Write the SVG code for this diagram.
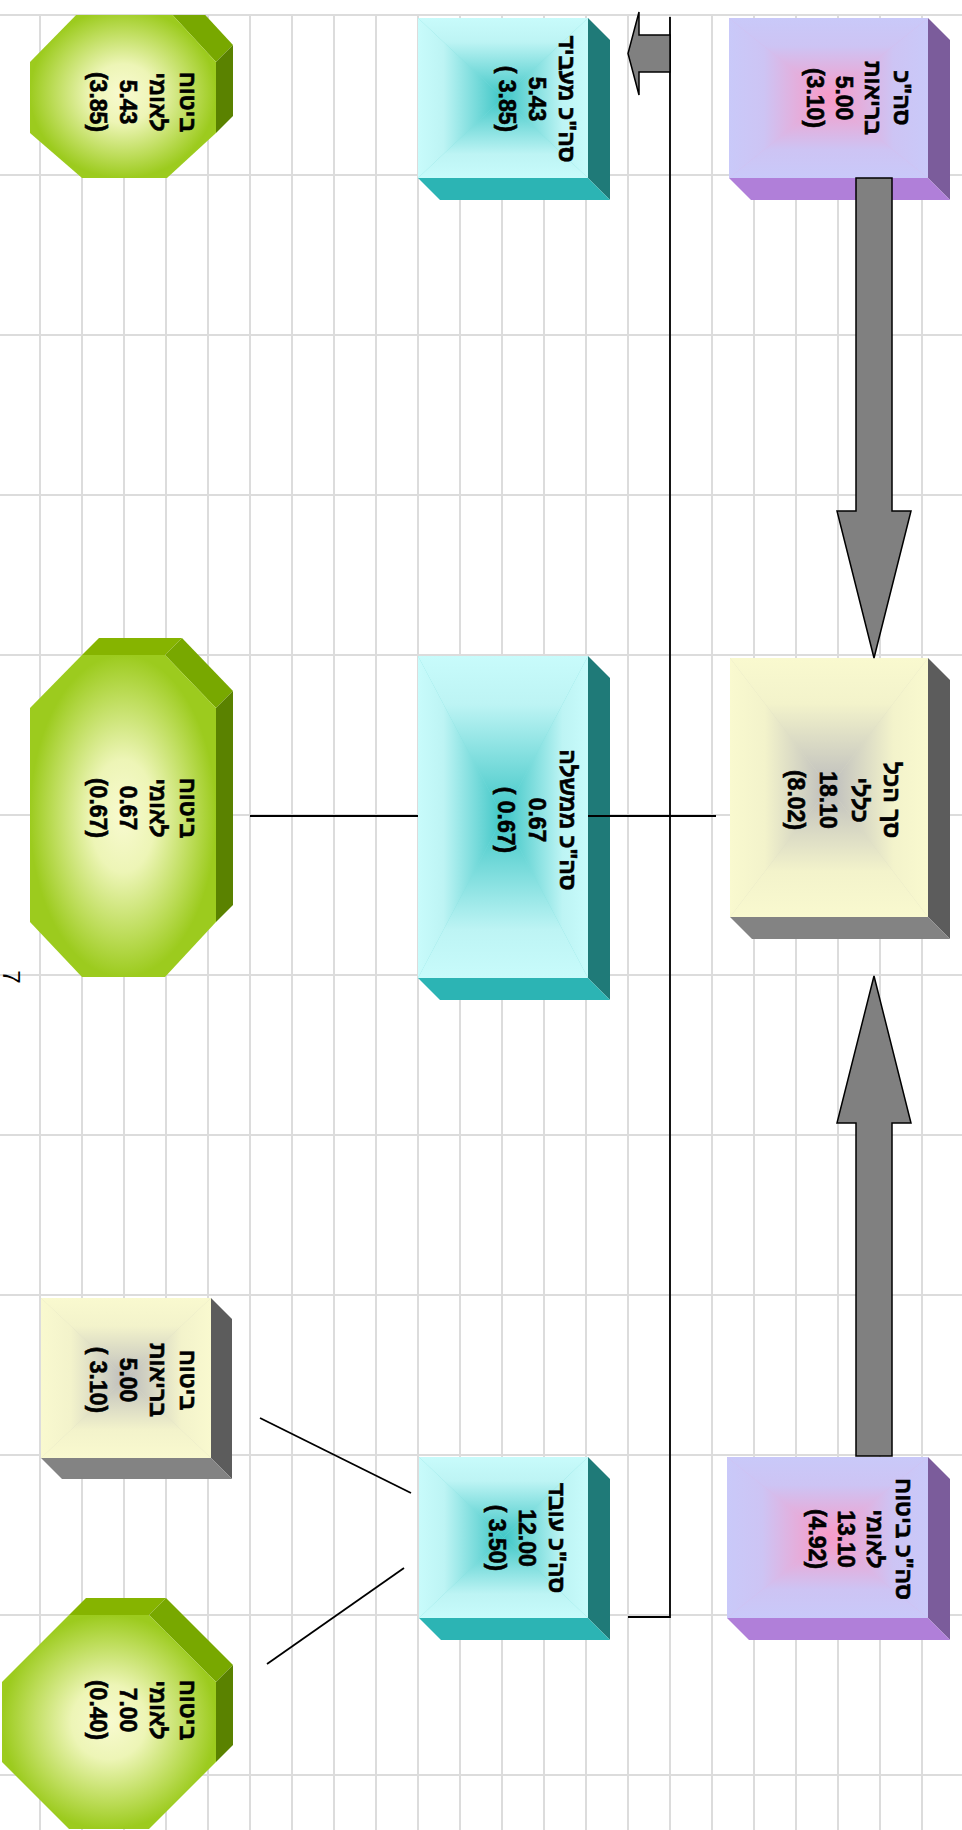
<svg xmlns="http://www.w3.org/2000/svg" width="962" height="1830" viewBox="0 0 962 1830">
<style>
.grid{stroke:#dcdcdc;stroke-width:2;fill:none}
.lbl{font-family:"Liberation Sans","DejaVu Sans",sans-serif;font-weight:bold;font-size:23px;fill:#000;stroke:#000;stroke-width:0.6;text-anchor:middle;dominant-baseline:central}
.conn{stroke:#000;stroke-width:1.8;fill:none}
.arrow{fill:#808080;stroke:#000;stroke-width:1.5;stroke-linejoin:miter}
.face{stroke:none}
</style>
<defs>
<linearGradient id="pT" x1="0" y1="0" x2="0" y2="1"><stop offset="0" stop-color="#c9c9f9"/><stop offset="0.35" stop-color="#cdc4f4"/><stop offset="1" stop-color="#f99ac6"/></linearGradient>
<linearGradient id="pB" href="#pT" x1="0" y1="1" x2="0" y2="0"/>
<linearGradient id="pL" href="#pT" x1="0" y1="0" x2="1" y2="0"/>
<linearGradient id="pR" href="#pT" x1="1" y1="0" x2="0" y2="0"/>
<linearGradient id="cT" x1="0" y1="0" x2="0" y2="1"><stop offset="0" stop-color="#c8fbfb"/><stop offset="0.3" stop-color="#bdf4f4"/><stop offset="1" stop-color="#3ec6c6"/></linearGradient>
<linearGradient id="cB" href="#cT" x1="0" y1="1" x2="0" y2="0"/>
<linearGradient id="cL" href="#cT" x1="0" y1="0" x2="1" y2="0"/>
<linearGradient id="cR" href="#cT" x1="1" y1="0" x2="0" y2="0"/>
<linearGradient id="yT" x1="0" y1="0" x2="0" y2="1"><stop offset="0" stop-color="#f9f9cf"/><stop offset="0.35" stop-color="#f3f3cb"/><stop offset="1" stop-color="#bdbdbd"/></linearGradient>
<linearGradient id="yB" href="#yT" x1="0" y1="1" x2="0" y2="0"/>
<linearGradient id="yL" href="#yT" x1="0" y1="0" x2="1" y2="0"/>
<linearGradient id="yR" href="#yT" x1="1" y1="0" x2="0" y2="0"/>
<radialGradient id="oct" cx="0.5" cy="0.5" r="0.5"><stop offset="0" stop-color="#f8fad0"/><stop offset="0.35" stop-color="#edf5b6"/><stop offset="0.75" stop-color="#bcdc58"/><stop offset="1" stop-color="#9ccb1e"/></radialGradient>
<clipPath id="clipTop"><rect x="0" y="15" width="962" height="1815"/></clipPath>
</defs>
<rect width="962" height="1830" fill="#fff"/>
<g id="grid">
<path class="grid" d="M40 15V1830M82 15V1830M124 15V1830M166 15V1830M208 15V1830M250 15V1830M292 15V1830M334 15V1830M376 15V1830M418 15V1830M460 15V1830M502 15V1830M544 15V1830M586 15V1830M628 15V1830M670 15V1830M712 15V1830M754 15V1830M796 15V1830M838 15V1830M880 15V1830M922 15V1830"/>
<path class="grid" d="M0 15H962M0 175H962M0 335H962M0 495H962M0 655H962M0 815H962M0 975H962M0 1135H962M0 1295H962M0 1455H962M0 1615H962M0 1775H962"/>
</g>
<text x="0" y="0" transform="translate(3,977) rotate(90)" font-family="Liberation Sans, sans-serif" font-size="24" text-anchor="middle" fill="#000">7</text>

<g id="n1">
<polygon class="face" fill="#7b5c9b" points="928,18 950,40 950,200 928,178"/>
<polygon class="face" fill="#b07fd9" points="729,178 928,178 950,200 751,200"/>
<rect x="729" y="18" width="199" height="160" fill="#d8b8e8"/>
<polygon fill="url(#pT)" points="729,18 928,18 828.5,98"/>
<polygon fill="url(#pB)" points="729,178 928,178 828.5,98"/>
<polygon fill="url(#pL)" points="729,18 729,178 828.5,98"/>
<polygon fill="url(#pR)" points="928,18 928,178 828.5,98"/>
<g transform="translate(858,98) rotate(90)"><text class="lbl" y="-43.5">סה"כ</text><text class="lbl" y="-14.5">בריאות</text><text class="lbl" y="14.5">5.00</text><text class="lbl" y="43.5">(3.10)</text></g>
</g>

<g id="n2">
<polygon class="face" fill="#1f7a78" points="588,18 610,40 610,200 588,178"/>
<polygon class="face" fill="#2cb4b4" points="418,178 588,178 610,200 440,200"/>
<rect x="418" y="18" width="170" height="160" fill="#80dede"/>
<polygon fill="url(#cT)" points="418,18 588,18 503,98"/>
<polygon fill="url(#cB)" points="418,178 588,178 503,98"/>
<polygon fill="url(#cL)" points="418,18 418,178 503,98"/>
<polygon fill="url(#cR)" points="588,18 588,178 503,98"/>
<g transform="translate(537,99) rotate(90)"><text class="lbl" y="-30">סה"כ מעביד</text><text class="lbl" y="0">5.43</text><text class="lbl" y="30">( 3.85)</text></g>
</g>

<g id="n3" clip-path="url(#clipTop)">
<polygon class="face" fill="#86b400" points="82,9 99,-8 184,-8 167,9"/>
<polygon class="face" fill="#78a800" points="167,9 184,-8 233,45 216,62"/>
<polygon class="face" fill="#5a8200" points="216,62 233,45 233,116 216,133"/>
<polygon fill="url(#oct)" points="82,9 167,9 216,62 216,133 167,178 82,178 30,133 30,62"/>
<g transform="translate(143,102) rotate(90)"><text class="lbl" y="-45">ביטוח</text><text class="lbl" y="-15">לאומי</text><text class="lbl" y="15">5.43</text><text class="lbl" y="45">(3.85)</text></g>
</g>

<g id="n4">
<polygon class="face" fill="#5c5c5c" points="928,658 950,680 950,939 928,917"/>
<polygon class="face" fill="#838383" points="730,917 928,917 950,939 752,939"/>
<rect x="730" y="658" width="198" height="259" fill="#dcdcc4"/>
<polygon fill="url(#yT)" points="730,658 928,658 829,787.5"/>
<polygon fill="url(#yB)" points="730,917 928,917 829,787.5"/>
<polygon fill="url(#yL)" points="730,658 730,917 829,787.5"/>
<polygon fill="url(#yR)" points="928,658 928,917 829,787.5"/>
<g transform="translate(844,800) rotate(90)"><text class="lbl" y="-48">סך הכל</text><text class="lbl" y="-16">כללי</text><text class="lbl" y="16">18.10</text><text class="lbl" y="48">(8.02)</text></g>
</g>

<g id="n5">
<polygon class="face" fill="#1f7a78" points="588,656 610,678 610,1000 588,978"/>
<polygon class="face" fill="#2cb4b4" points="418,978 588,978 610,1000 440,1000"/>
<rect x="418" y="656" width="170" height="322" fill="#80dede"/>
<polygon fill="url(#cT)" points="418,656 588,656 503,817"/>
<polygon fill="url(#cB)" points="418,978 588,978 503,817"/>
<polygon fill="url(#cL)" points="418,656 418,978 503,817"/>
<polygon fill="url(#cR)" points="588,656 588,978 503,817"/>
<g transform="translate(537,820) rotate(90)"><text class="lbl" y="-31">סה"כ ממשלה</text><text class="lbl" y="0">0.67</text><text class="lbl" y="31">( 0.67)</text></g>
</g>

<g id="n6">
<polygon class="face" fill="#86b400" points="82,655 99,638 182,638 165,655"/>
<polygon class="face" fill="#78a800" points="165,655 182,638 233,691 216,708"/>
<polygon class="face" fill="#5a8200" points="216,708 233,691 233,905 216,922"/>
<polygon fill="url(#oct)" points="82,655 165,655 216,708 216,922 165,977 82,977 30,922 30,708"/>
<g transform="translate(143,808) rotate(90)"><text class="lbl" y="-45">ביטוח</text><text class="lbl" y="-15">לאומי</text><text class="lbl" y="15">0.67</text><text class="lbl" y="45">(0.67)</text></g>
</g>

<g id="n7">
<polygon class="face" fill="#7b5c9b" points="928,1457 950,1479 950,1640 928,1618"/>
<polygon class="face" fill="#b07fd9" points="727,1618 928,1618 950,1640 749,1640"/>
<rect x="727" y="1457" width="201" height="161" fill="#d8b8e8"/>
<polygon fill="url(#pT)" points="727,1457 928,1457 827.5,1537.5"/>
<polygon fill="url(#pB)" points="727,1618 928,1618 827.5,1537.5"/>
<polygon fill="url(#pL)" points="727,1457 727,1618 827.5,1537.5"/>
<polygon fill="url(#pR)" points="928,1457 928,1618 827.5,1537.5"/>
<g transform="translate(860,1539) rotate(90)"><text class="lbl" y="-43.5">סה"כ ביטוח</text><text class="lbl" y="-14.5">לאומי</text><text class="lbl" y="14.5">13.10</text><text class="lbl" y="43.5">(4.92)</text></g>
</g>

<g id="n8">
<polygon class="face" fill="#1f7a78" points="588,1457 610,1479 610,1640 588,1618"/>
<polygon class="face" fill="#2cb4b4" points="419,1618 588,1618 610,1640 441,1640"/>
<rect x="419" y="1457" width="169" height="161" fill="#80dede"/>
<polygon fill="url(#cT)" points="419,1457 588,1457 503.5,1537.5"/>
<polygon fill="url(#cB)" points="419,1618 588,1618 503.5,1537.5"/>
<polygon fill="url(#cL)" points="419,1457 419,1618 503.5,1537.5"/>
<polygon fill="url(#cR)" points="588,1457 588,1618 503.5,1537.5"/>
<g transform="translate(527,1538) rotate(90)"><text class="lbl" y="-30">סה"כ עובד</text><text class="lbl" y="0">12.00</text><text class="lbl" y="30">( 3.50)</text></g>
</g>

<g id="n9">
<polygon class="face" fill="#5c5c5c" points="211,1298 232,1319 232,1479 211,1458"/>
<polygon class="face" fill="#838383" points="41,1458 211,1458 232,1479 62,1479"/>
<rect x="41" y="1298" width="170" height="160" fill="#dcdcc4"/>
<polygon fill="url(#yT)" points="41,1298 211,1298 126,1378"/>
<polygon fill="url(#yB)" points="41,1458 211,1458 126,1378"/>
<polygon fill="url(#yL)" points="41,1298 41,1458 126,1378"/>
<polygon fill="url(#yR)" points="211,1298 211,1458 126,1378"/>
<g transform="translate(143,1380) rotate(90)"><text class="lbl" y="-45">ביטוח</text><text class="lbl" y="-15">בריאות</text><text class="lbl" y="15">5.00</text><text class="lbl" y="45">( 3.10)</text></g>
</g>

<g id="n10">
<polygon class="face" fill="#86b400" points="69,1615 86,1598 166,1598 149,1615"/>
<polygon class="face" fill="#78a800" points="149,1615 166,1598 233,1665 216,1682"/>
<polygon class="face" fill="#5a8200" points="216,1682 233,1665 233,1745 216,1762"/>
<polygon fill="url(#oct)" points="69,1615 149,1615 216,1682 216,1762 149,1829 69,1829 2,1762 2,1682"/>
<g transform="translate(143,1710) rotate(90)"><text class="lbl" y="-45">ביטוח</text><text class="lbl" y="-15">לאומי</text><text class="lbl" y="15">7.00</text><text class="lbl" y="45">(0.40)</text></g>
</g>

<g id="connectors">
<polygon class="arrow" points="856,178 892,178 892,511 911,511 874,658 837,511 856,511"/>
<polygon class="arrow" points="856,1456 892,1456 892,1123 911,1123 874,976 837,1123 856,1123"/>
<polyline class="conn" points="628,1617 670,1617 670,17"/>
<polygon class="arrow" points="670,35 639,35 639,12 628,53.5 639,95 639,72 670,72"/>
<line class="conn" x1="250" y1="816" x2="418" y2="816"/>
<line class="conn" x1="588" y1="816" x2="716" y2="816"/>
<line class="conn" x1="260" y1="1418" x2="411" y2="1493"/>
<line class="conn" x1="267" y1="1664" x2="404" y2="1568"/>
</g>
</svg>
